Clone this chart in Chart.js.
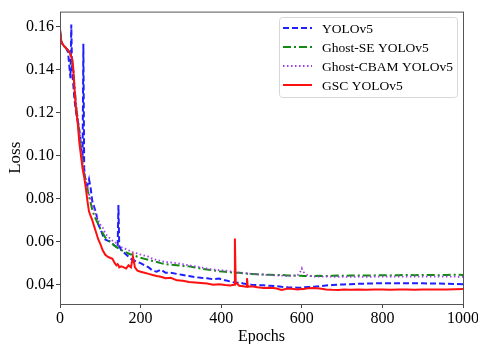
<!DOCTYPE html>
<html>
<head>
<meta charset="utf-8">
<script src="https://cdn.jsdelivr.net/npm/chart.js@4.4.1/dist/chart.umd.min.js"></script>
<style>
  html, body { margin: 0; padding: 0; background: #fff; }
  #wrap { width: 478px; height: 344px; }
</style>
</head>
<body>
<div id="wrap"><canvas id="lossChart" width="478" height="344"></canvas></div>
<script>
const epochs = [0, 3, 6, 10, 15, 20, 24, 26, 28, 30, 33, 36, 40, 44, 48, 52, 56, 58, 60, 64, 68, 72, 76, 80, 85, 90, 95, 100, 106, 112, 118, 124, 130, 136, 140, 143, 145, 147, 152, 158, 164, 170, 176, 181, 186, 192, 200, 210, 220, 230, 240, 250, 262, 275, 290, 305, 320, 335, 350, 365, 380, 395, 410, 422, 432, 434, 436, 445, 455, 462, 464, 466, 475, 490, 505, 520, 535, 550, 565, 580, 590, 598, 600, 602, 615, 630, 645, 660, 675, 690, 705, 720, 740, 760, 780, 800, 820, 840, 860, 880, 900, 920, 940, 960, 980, 1000];

const yolo = [0.158, 0.153, 0.152, 0.151, 0.150, 0.148, 0.140, 0.136, 0.161, 0.140, 0.133, 0.126, 0.120, 0.116, 0.112, 0.105, 0.098, 0.152, 0.094, 0.087, 0.086, 0.089, 0.085, 0.079, 0.076, 0.073, 0.068, 0.066, 0.063, 0.061, 0.0605, 0.060, 0.059, 0.058, 0.0575, 0.057, 0.077, 0.058, 0.056, 0.055, 0.054, 0.053, 0.052, 0.0515, 0.051, 0.0505, 0.050, 0.049, 0.048, 0.0465, 0.046, 0.047, 0.0455, 0.0455, 0.045, 0.0445, 0.044, 0.0435, 0.0432, 0.043, 0.0425, 0.0428, 0.042, 0.0415, 0.041, 0.041, 0.0408, 0.041, 0.0405, 0.0403, 0.0403, 0.0402, 0.0400, 0.0398, 0.0397, 0.0395, 0.0393, 0.0390, 0.0388, 0.0387, 0.0386, 0.0386, 0.0386, 0.0387, 0.0389, 0.0390, 0.0393, 0.0396, 0.0398, 0.0400, 0.0401, 0.0402, 0.0404, 0.0405, 0.0406, 0.0407, 0.0407, 0.0407, 0.0406, 0.0407, 0.0406, 0.0405, 0.0405, 0.0404, 0.0403, 0.0402];

const ghostSE = [0.158, 0.153, 0.152, 0.151, 0.150, 0.149, 0.148, 0.147, 0.146, 0.145, 0.140, 0.132, 0.123, 0.117, 0.110, 0.103, 0.096, 0.094, 0.092, 0.088, 0.085, 0.081, 0.078, 0.075, 0.072, 0.070, 0.068, 0.066, 0.064, 0.062, 0.061, 0.060, 0.059, 0.058, 0.0575, 0.057, 0.057, 0.0568, 0.056, 0.0555, 0.055, 0.0545, 0.054, 0.054, 0.0535, 0.053, 0.0525, 0.052, 0.0515, 0.051, 0.0505, 0.050, 0.0495, 0.0493, 0.049, 0.0487, 0.0485, 0.048, 0.0475, 0.047, 0.0467, 0.0462, 0.046, 0.0458, 0.0456, 0.0456, 0.0455, 0.0455, 0.0453, 0.0452, 0.0452, 0.045, 0.045, 0.0448, 0.0447, 0.0446, 0.0445, 0.0445, 0.0443, 0.0442, 0.0441, 0.0441, 0.0441, 0.044, 0.0441, 0.0440, 0.0441, 0.0440, 0.0441, 0.0442, 0.0441, 0.0442, 0.0443, 0.0442, 0.0443, 0.0444, 0.0443, 0.0444, 0.0445, 0.0444, 0.0445, 0.0445, 0.0444, 0.0445, 0.0446, 0.0445];

const ghostCBAM = [0.158, 0.153, 0.152, 0.151, 0.150, 0.149, 0.148, 0.147, 0.146, 0.145, 0.141, 0.133, 0.124, 0.118, 0.111, 0.104, 0.097, 0.095, 0.093, 0.089, 0.085, 0.082, 0.080, 0.077, 0.075, 0.072, 0.070, 0.068, 0.0665, 0.064, 0.0625, 0.0615, 0.0605, 0.060, 0.059, 0.0585, 0.058, 0.058, 0.0575, 0.057, 0.0565, 0.056, 0.0555, 0.055, 0.0548, 0.0545, 0.054, 0.0535, 0.053, 0.052, 0.0515, 0.051, 0.0505, 0.0503, 0.050, 0.0495, 0.049, 0.0485, 0.048, 0.0475, 0.047, 0.0468, 0.0465, 0.0462, 0.046, 0.046, 0.0458, 0.0456, 0.0455, 0.0453, 0.0452, 0.0452, 0.045, 0.0448, 0.0446, 0.0445, 0.0443, 0.0442, 0.044, 0.0442, 0.0445, 0.0465, 0.0475, 0.0462, 0.0442, 0.0438, 0.0437, 0.0438, 0.0437, 0.0436, 0.0437, 0.0436, 0.0437, 0.0436, 0.0437, 0.0438, 0.0437, 0.0438, 0.0437, 0.0438, 0.0437, 0.0438, 0.0437, 0.0438, 0.0437, 0.0436];

const gsc = [0.159, 0.1535, 0.152, 0.151, 0.150, 0.149, 0.148, 0.147, 0.146, 0.145, 0.140, 0.131, 0.121, 0.115, 0.106, 0.100, 0.094, 0.092, 0.090, 0.085, 0.079, 0.074, 0.072, 0.070, 0.067, 0.064, 0.061, 0.059, 0.056, 0.054, 0.053, 0.0525, 0.052, 0.050, 0.049, 0.0495, 0.049, 0.048, 0.0485, 0.048, 0.0475, 0.049, 0.048, 0.053, 0.048, 0.0465, 0.046, 0.0455, 0.045, 0.0445, 0.044, 0.0437, 0.043, 0.0432, 0.042, 0.0418, 0.0412, 0.041, 0.0408, 0.0405, 0.040, 0.0402, 0.0398, 0.0396, 0.040, 0.0615, 0.041, 0.0395, 0.0393, 0.039, 0.043, 0.039, 0.0392, 0.0388, 0.0385, 0.0386, 0.0383, 0.0375, 0.0382, 0.0380, 0.0377, 0.0380, 0.0381, 0.0379, 0.0383, 0.0384, 0.0382, 0.0378, 0.0376, 0.0375, 0.0377, 0.0376, 0.0378, 0.0376, 0.0377, 0.0378, 0.0376, 0.0377, 0.0378, 0.0376, 0.0378, 0.0377, 0.0378, 0.0377, 0.0379, 0.0380];

const seriesNames = ['YOLOv5', 'Ghost-SE YOLOv5', 'Ghost-CBAM YOLOv5', 'GSC YOLOv5'];
const yTicks = [0.04, 0.06, 0.08, 0.10, 0.12, 0.14, 0.16];
const xTicks = [0, 200, 400, 600, 800, 1000];

const serif = '"Liberation Serif", "Times New Roman", serif';

function pts(vals) {
    return epochs.map((e, i) => ({ x: e, y: vals[i] }));
}

// frame round the plot area + legend box in the upper right
const framePlugin = {
    id: 'frame',
    afterDatasetsDraw(chart) {
        const { ctx, chartArea: a } = chart;
        ctx.save();
        ctx.strokeStyle = '#555';
        ctx.lineWidth = 1;
        ctx.strokeRect(a.left + 0.5, a.top + 0.5, a.right - a.left, a.bottom - a.top);

        // legend
        const bx = 279, by = 17, bw = 178, bh = 80;
        ctx.fillStyle = 'rgba(255,255,255,0.85)';
        ctx.strokeStyle = '#d8d8d8';
        ctx.beginPath();
        ctx.roundRect(bx + 0.5, by + 0.5, bw, bh, 3);
        ctx.fill();
        ctx.stroke();
        ctx.font = '13.5px ' + serif;
        ctx.textBaseline = 'middle';
        chart.data.datasets.forEach((ds, i) => {
            const y = by + 11 + i * 19;
            ctx.strokeStyle = ds.borderColor;
            ctx.lineWidth = ds.borderWidth;
            ctx.setLineDash(ds.borderDash || []);
            ctx.beginPath();
            ctx.moveTo(bx + 4, y);
            ctx.lineTo(bx + 33, y);
            ctx.stroke();
            ctx.setLineDash([]);
            ctx.fillStyle = '#000';
            ctx.fillText(ds.label, bx + 43, y + 1);
        });
        ctx.restore();
    }
};

const ctx = document.getElementById('lossChart').getContext('2d');

const lossChart = new Chart(ctx, {
    type: 'line',
    data: {
        datasets: [
            { label: seriesNames[0], data: pts(yolo), borderColor: '#1f1fff', borderWidth: 2, borderDash: [6, 3], order: 3 },
            { label: seriesNames[1], data: pts(ghostSE), borderColor: '#138a13', borderWidth: 2, borderDash: [8, 3, 2, 3], order: 2 },
            { label: seriesNames[2], data: pts(ghostCBAM), borderColor: '#a040e8', borderWidth: 1.8, borderDash: [1.5, 2.5], order: 1 },
            { label: seriesNames[3], data: pts(gsc), borderColor: '#ff1010', borderWidth: 2, order: 0 }
        ]
    },
    options: {
        responsive: false,
        animation: false,
        parsing: false,
        elements: { point: { radius: 0 }, line: { tension: 0, fill: false } },
        layout: { padding: { left: 0, top: 11, right: 15, bottom: 0 } },
        plugins: { legend: { display: false }, tooltip: { enabled: false } },
        scales: {
            x: {
                type: 'linear',
                min: 0,
                max: 1000,
                afterFit: s => { s.height = 40; s.paddingRight = 0; s.paddingLeft = 0; },
                afterBuildTicks: s => { s.ticks = xTicks.map(v => ({ value: v })); },
                grid: { display: true, drawOnChartArea: false, drawTicks: true, tickLength: 4, color: '#444' },
                border: { display: false },
                ticks: { color: '#000', font: { family: serif, size: 16 }, padding: 1, maxRotation: 0, callback: v => String(v) },
                title: { display: true, text: 'Epochs', color: '#000', font: { family: serif, size: 16 }, padding: { top: 0, bottom: -2 } }
            },
            y: {
                min: 0.031,
                max: 0.167,
                afterFit: s => { s.width = 60; },
                afterBuildTicks: s => { s.ticks = yTicks.map(v => ({ value: v })); },
                grid: { display: true, drawOnChartArea: false, drawTicks: true, tickLength: 4, color: '#444' },
                border: { display: false },
                ticks: { color: '#000', font: { family: serif, size: 16 }, padding: 2, callback: v => v.toFixed(2) },
                title: { display: true, text: 'Loss', color: '#000', font: { family: serif, size: 17 }, padding: { top: 5, bottom: 0 } }
            }
        }
    },
    plugins: [framePlugin]
});
</script>
</body>
</html>
